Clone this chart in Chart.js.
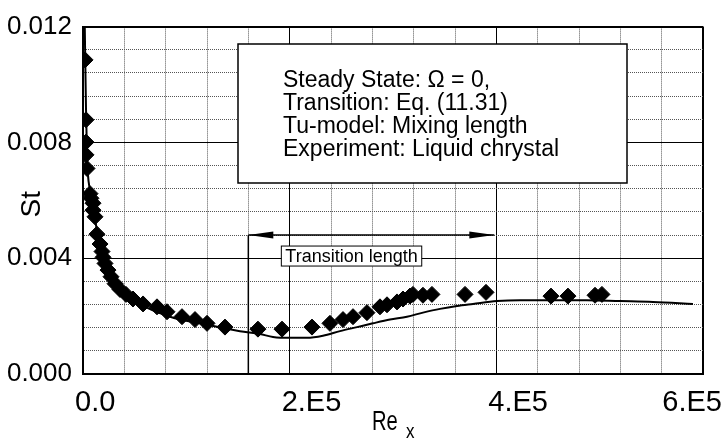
<!DOCTYPE html>
<html>
<head>
<meta charset="utf-8">
<script src="https://cdn.jsdelivr.net/npm/chart.js@4.4.0/dist/chart.umd.min.js"></script>
<style>
  html, body { margin: 0; padding: 0; background: #fff; }
  #wrap { width: 724px; height: 441px; position: relative; }
</style>
</head>
<body>
<div id="wrap"><canvas id="chart"></canvas></div>
<script>
// experiment (liquid crystal)
const expRe = [2000, 2900, 2900, 2900, 3900, 6800, 7700, 9700, 9700, 11600, 13500, 16500, 18400, 19400,
  21300, 24200, 27100, 31000, 35800, 41600, 48400, 58100, 71600, 81300, 95800, 108400, 120000, 137400,
  169300, 192600, 221600, 239000, 251600, 261300, 274800, 287400, 294200, 303900, 309700, 316400, 319300,
  329000, 337700, 369700, 390000, 452900, 469300, 495500, 502200];
const expSt = [0.01085, 0.00878, 0.00801, 0.00757, 0.00710, 0.00623, 0.00607, 0.00590, 0.00566, 0.00543,
  0.00483, 0.00449, 0.00423, 0.00403, 0.00382, 0.00359, 0.00336, 0.00312, 0.00292, 0.00275, 0.00259,
  0.00242, 0.00232, 0.00215, 0.00198, 0.00188, 0.00175, 0.00162, 0.00155, 0.00155, 0.00162, 0.00175,
  0.00188, 0.00198, 0.00212, 0.00232, 0.00239, 0.00249, 0.00259, 0.00269, 0.00275, 0.00272, 0.00275,
  0.00275, 0.00282, 0.00269, 0.00269, 0.00272, 0.00275];

// computed curve (mixing length model)
const modelRe = [1500, 2900, 3900, 6800, 11600, 16500, 24200, 35800, 55200, 84200, 113200, 151900,
  171300, 183900, 200300, 216800, 232200, 248700, 265200, 280600, 297100, 313500, 329000, 345500,
  361900, 377400, 400600, 422900, 454800, 487700, 519600, 551600, 590300];
const modelSt = [0.0125, 0.00918, 0.00750, 0.00633, 0.00533, 0.00449, 0.00366, 0.00299, 0.00242,
  0.00198, 0.00175, 0.00148, 0.00138, 0.00128, 0.00125, 0.00125, 0.00132, 0.00148, 0.00162, 0.00175,
  0.00188, 0.00198, 0.00212, 0.00225, 0.00235, 0.00242, 0.00252, 0.00255, 0.00255, 0.00255, 0.00252,
  0.00249, 0.00242];

const xTickValues = [0, 200000, 400000, 600000];
const xTickLabels = ['0.0', '2.E5', '4.E5', '6.E5'];
const yTickLabels = ['0.000', '0.004', '0.008', '0.012'];
const noteLines = ['Steady State: \u03A9 = 0,', 'Transition: Eq. (11.31)', 'Tu-model: Mixing length',
  'Experiment: Liquid chrystal'];
const transitionLabel = 'Transition length';
const transitionStart = 160000;
const transitionEnd = 400000;
const transitionLevel = 0.0048;

const FONT = '"Liberation Sans", Arial, sans-serif';
const X_STEP = 40000, Y_STEP = 0.0008;

const isMajorX = v => Math.round(v / X_STEP) % 5 === 0;
const isMajorY = v => Math.round(v / Y_STEP) % 5 === 0;

function arrowHead(ctx, tipX, y, dir) {
  ctx.beginPath();
  ctx.moveTo(tipX, y);
  ctx.lineTo(tipX + dir * 25, y - 3.5);
  ctx.lineTo(tipX + dir * 25, y + 3.5);
  ctx.closePath();
  ctx.fill();
}

const overlay = {
  id: 'overlay',
  afterDatasetsDraw(chart) {
    const { ctx, chartArea: a, scales: { x, y } } = chart;
    ctx.save();
    ctx.fillStyle = '#000';
    ctx.strokeStyle = '#000';

    // x tick labels (sit a bit right of their ticks, last one kept inside)
    ctx.font = '29px ' + FONT;
    ctx.textBaseline = 'alphabetic';
    ctx.textAlign = 'left';
    xTickValues.forEach((v, i) => {
      const w = ctx.measureText(xTickLabels[i]).width;
      const left = Math.min(x.getPixelForValue(v) - 8, chart.width - 2 - w);
      ctx.fillText(xTickLabels[i], left, a.bottom + 37);
    });

    // x title: Re with subscript x (narrow face)
    ctx.save();
    ctx.translate(372, a.bottom + 56);
    ctx.scale(0.72, 1);
    ctx.font = '28px ' + FONT;
    ctx.fillText('Re', 0, 0);
    ctx.restore();
    ctx.save();
    ctx.translate(406, a.bottom + 64);
    ctx.scale(0.85, 1);
    ctx.font = '20px ' + FONT;
    ctx.fillText('x', 0, 0);
    ctx.restore();

    // y title
    ctx.save();
    ctx.translate(32, (a.top + a.bottom) / 2 + 4);
    ctx.rotate(-Math.PI / 2);
    ctx.font = '28px ' + FONT;
    ctx.textAlign = 'center';
    ctx.textBaseline = 'middle';
    ctx.fillText('St', 0, 0);
    ctx.restore();

    // note box
    ctx.fillStyle = '#fff';
    ctx.fillRect(238, 44, 389, 139);
    ctx.lineWidth = 1.5;
    ctx.strokeRect(238, 44, 389, 139);
    ctx.fillStyle = '#000';
    ctx.font = '23px ' + FONT;
    noteLines.forEach((t, i) => ctx.fillText(t, 283, 87 + i * 23));

    // transition length arrow
    const x1 = x.getPixelForValue(transitionStart);
    const x2 = x.getPixelForValue(transitionEnd);
    const ya = y.getPixelForValue(transitionLevel);
    ctx.lineWidth = 1.5;
    ctx.beginPath();
    ctx.moveTo(x1, ya);
    ctx.lineTo(x2 - 2, ya);
    ctx.moveTo(x1, ya);
    ctx.lineTo(x1, a.bottom);
    ctx.stroke();
    arrowHead(ctx, x1, ya, 1);
    arrowHead(ctx, x2 - 2, ya, -1);

    // transition label box
    ctx.font = '18px ' + FONT;
    const tw = ctx.measureText(transitionLabel).width;
    const bx = x1 + 33, by = ya + 11;
    ctx.fillStyle = '#fff';
    ctx.fillRect(bx, by, tw + 8, 20);
    ctx.lineWidth = 1;
    ctx.strokeRect(bx, by, tw + 8, 20);
    ctx.fillStyle = '#000';
    ctx.fillText(transitionLabel, bx + 4, by + 16);

    ctx.restore();
  }
};

new Chart(document.getElementById('chart'), {
  type: 'scatter',
  data: {
    datasets: [
      {
        label: 'Experiment',
        data: expRe.map((v, i) => ({ x: v, y: expSt[i] })),
        pointStyle: 'rectRot',
        pointRadius: 8,
        backgroundColor: '#000',
        borderColor: '#000',
        borderWidth: 1
      },
      {
        label: 'Mixing length',
        data: modelRe.map((v, i) => ({ x: v, y: modelSt[i] })),
        showLine: true,
        pointRadius: 0,
        borderColor: '#000',
        borderWidth: 2,
        cubicInterpolationMode: 'monotone'
      }
    ]
  },
  options: {
    responsive: true,
    maintainAspectRatio: false,
    animation: false,
    layout: { padding: { left: 0, right: 21, top: 16, bottom: 0 } },
    plugins: { legend: { display: false }, tooltip: { enabled: false } },
    scales: {
      x: {
        type: 'linear',
        min: 0,
        max: 600000,
        afterFit: s => { s.height = 67; },
        ticks: { display: false, stepSize: X_STEP, autoSkip: false },
        grid: {
          drawTicks: false,
          color: c => isMajorX(c.tick.value) ? '#000' : '#555',
          lineWidth: c => (c.tick.value === 600000 ? 2 : 1)
        },
        border: {
          display: true, color: '#000', width: 2,
          dash: c => (c.tick && !isMajorX(c.tick.value)) ? [1, 1] : []
        }
      },
      y: {
        min: 0,
        max: 0.012,
        afterFit: s => { s.width = 83; },
        ticks: {
          stepSize: Y_STEP,
          autoSkip: false,
          padding: 11,
          color: '#000',
          font: { family: FONT, size: 26 },
          callback: v => isMajorY(v) ? yTickLabels[Math.round(v / Y_STEP) / 5] : ''
        },
        grid: {
          drawTicks: false,
          color: c => isMajorY(c.tick.value) ? '#000' : '#555',
          lineWidth: c => (Math.round(c.tick.value / Y_STEP) === 15 ? 2 : 1)
        },
        border: {
          display: true, color: '#000', width: 2,
          dash: c => (c.tick && !isMajorY(c.tick.value)) ? [1, 1] : []
        }
      }
    }
  },
  plugins: [overlay]
});
</script>
</body>
</html>
